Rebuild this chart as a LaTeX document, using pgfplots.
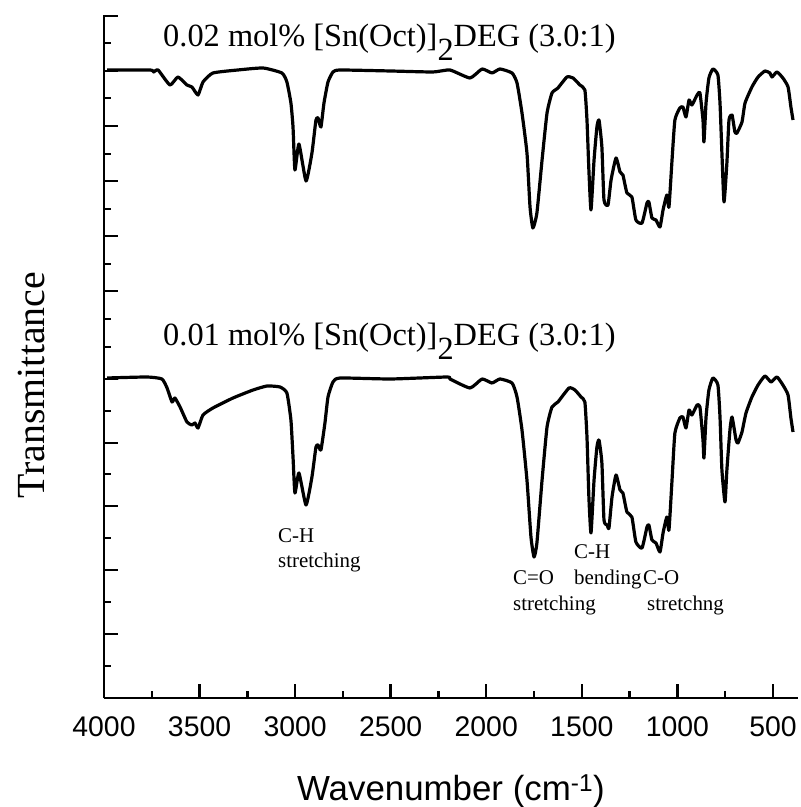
\documentclass[border=0pt]{standalone}
\usepackage{fontspec}
\setmainfont{Liberation Serif}
\newfontfamily\arial{Liberation Sans}
\usepackage{pgfplots}
\pgfplotsset{compat=1.18}

\begin{document}
\begin{tikzpicture}
\path[use as bounding box] (-104bp,-109bp) rectangle (697bp,698bp);
\begin{axis}[
  at={(0,0)}, anchor=south west,
  scale only axis, width=693.8bp, height=683bp,
  x dir=reverse, xmin=370, xmax=4000, ymin=0, ymax=683,
  axis x line*=bottom, axis y line*=left,
  axis line style={-, line width=2.6bp},
  tick align=inside,
  major tick length=14bp, minor tick length=7bp,
  every tick/.style={black, line width=2.4bp},
  xtick={500,1000,...,4000},
  minor xtick={750,1250,...,3750},
  ytick={64,128,192,255,319,407,462,517,572,627,682},
  minor ytick={32,96,160,224,287,351,379,434,489,544,600,655},
  yticklabels={},
  /pgf/number format/assume math mode=true,
  /pgf/number format/set thousands separator={},
  xticklabel style={font=\arial\fontsize{28.5}{30}\selectfont, inner sep=0pt, anchor=north, yshift=-18bp},
  xlabel={Wavenumber (cm\textsuperscript{-1})},
  xlabel style={font=\arial\fontsize{35}{38}\selectfont, at={(axis description cs:0.5,0)}, anchor=base, inner sep=0pt, yshift=-102bp},
  ylabel={Transmittance},
  ylabel style={font=\fontsize{40}{44}\selectfont, at={(axis description cs:-0.105,0.458)}, anchor=center, inner sep=0pt},
]
% 0.02 mol%
\addplot[black, line width=3.2bp, line join=round, smooth, tension=0.3] coordinates {
(3984,628) (3759,628) (3740,626) (3717,628) (3655,613) (3613,621) (3566,613)
(3540,611) (3508,603) (3482,616) (3430,625) (3300,628) (3168,630) (3069,625)
(3043,616) (3022,595) (3011,571) (3001,528) (2980,554) (2943,517) (2912,545)
(2891,578) (2880,580) (2865,571) (2849,595) (2828,616) (2802,626) (2765,628)
(2500,627) (2279,626) (2190,628) (2085,620) (2022,629) (1970,625) (1928,629)
(1865,625) (1839,615) (1813,585) (1787,545) (1771,491) (1756,470) (1735,485)
(1708,538) (1682,585) (1656,605) (1625,610) (1578,621) (1546,620) (1510,613)
(1484,608) (1473,578) (1463,528) (1452,488) (1436,538) (1421,571) (1410,578)
(1395,551) (1384,498) (1363,493) (1347,518) (1321,540) (1300,526) (1285,523)
(1264,505) (1238,501) (1217,478) (1185,475) (1159,495) (1149,496) (1133,480)
(1112,478) (1091,471) (1075,488) (1055,503) (1044,491) (1028,538) (1013,578)
(987,590) (971,591) (955,581) (939,598) (924,593) (897,603) (882,605)
(866,578) (861,556) (850,595) (835,620) (814,629) (788,623) (777,595)
(767,545) (756,496) (741,535) (730,578) (714,583) (699,566) (688,565)
(662,576) (646,595) (610,611) (578,621) (542,627) (516,625) (505,621)
(479,626) (448,620) (421,611) (406,591) (395,578)
};
% 0.01 mol%
\addplot[black, line width=3.2bp, line join=round, smooth, tension=0.3] coordinates {
(3984,320) (3775,321) (3697,319) (3670,310) (3644,296) (3629,300) (3602,291)
(3566,276) (3540,273) (3524,275) (3508,270) (3482,283) (3430,290) (3325,300)
(3220,308) (3147,312) (3079,311) (3043,305) (3022,278) (3011,241) (3001,205)
(2980,225) (2943,193) (2912,221) (2891,251) (2880,253) (2865,248) (2844,275)
(2828,301) (2802,316) (2765,320) (2500,319) (2205,321) (2190,319) (2085,310)
(2022,319) (1970,315) (1928,319) (1865,315) (1839,301) (1813,268) (1787,218)
(1766,161) (1750,141) (1735,155) (1708,218) (1682,271) (1656,291) (1625,296)
(1567,310) (1536,308) (1504,301) (1484,296) (1473,261) (1463,201) (1452,165)
(1436,218) (1421,251) (1410,258) (1395,235) (1384,178) (1368,173) (1358,170)
(1342,201) (1321,223) (1300,208) (1285,205) (1264,186) (1238,181) (1217,156)
(1185,150) (1159,171) (1149,173) (1133,158) (1112,155) (1091,146) (1075,165)
(1055,181) (1044,168) (1028,218) (1013,265) (987,280) (971,281) (955,270)
(939,288) (924,283) (897,293) (882,291) (866,258) (861,240) (850,281)
(835,308) (814,320) (788,313) (777,281) (767,228) (751,196) (741,228)
(725,268) (714,281) (693,258) (683,255) (662,266) (641,285) (610,301)
(578,313) (542,322) (510,316) (479,321) (448,313) (421,303) (406,280) (395,266)
};
% sample labels
\node[anchor=base west, inner sep=0pt, font=\fontsize{32.5}{35}\selectfont]
  at (axis cs:3691,651) {0.02 mol\% [Sn(Oct)]\raisebox{-0.42em}{2}DEG (3.0:1)};
\node[anchor=base west, inner sep=0pt, font=\fontsize{32.5}{35}\selectfont]
  at (axis cs:3691,352) {0.01 mol\% [Sn(Oct)]\raisebox{-0.42em}{2}DEG (3.0:1)};
% band assignments
\tikzset{ann/.style={anchor=base west, inner sep=0pt, font=\fontsize{21}{23}\selectfont}}
\node[ann] at (axis cs:3090,155) {C-H};
\node[ann] at (axis cs:3090,130) {stretching};
\node[ann] at (axis cs:1860,113) {C=O};
\node[ann] at (axis cs:1860,88) {stretching};
\node[ann] at (axis cs:1541,139) {C-H};
\node[ann] at (axis cs:1541,113) {bending};
\node[ann] at (axis cs:1180,113) {C-O};
\node[ann] at (axis cs:1159,88) {stretchng};
\end{axis}
\end{tikzpicture}
\end{document}
